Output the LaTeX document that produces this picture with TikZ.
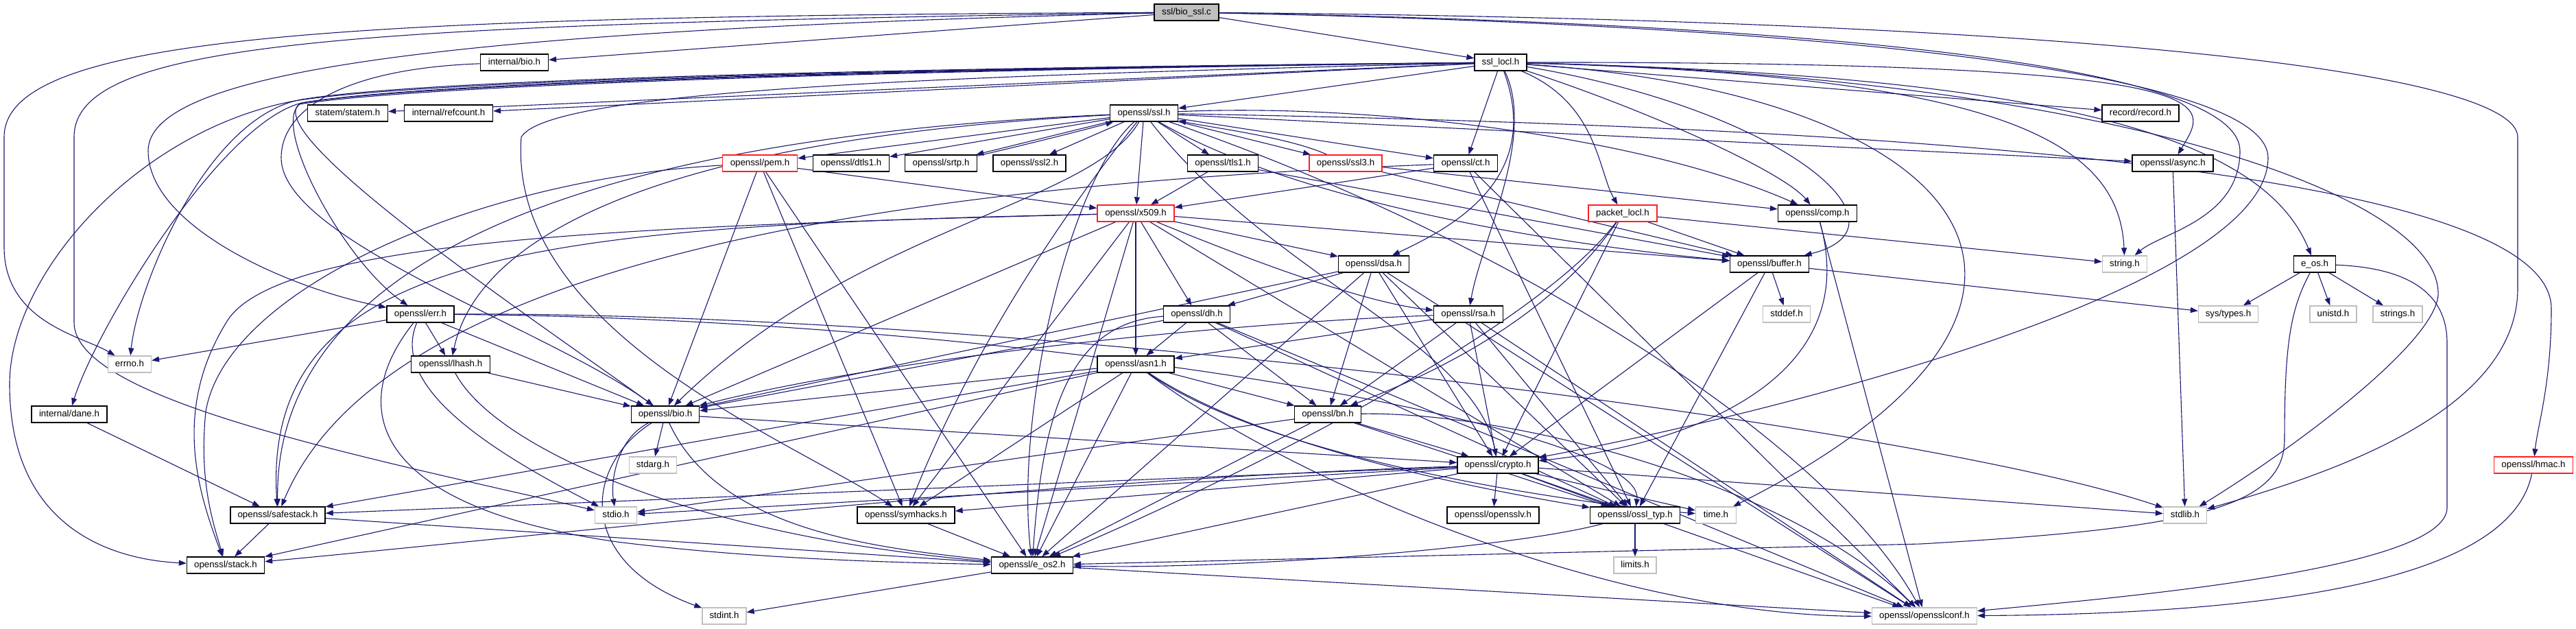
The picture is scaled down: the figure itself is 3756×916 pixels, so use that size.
\documentclass[tikz,border=0pt]{standalone}
\usepackage{fontspec}
\setmainfont{Liberation Sans}
\usetikzlibrary{arrows.meta}
\pgfdeclarelayer{bg}
\pgfsetlayers{bg,main}
\definecolor{edgec}{HTML}{191970}
\definecolor{lgray}{HTML}{BFBFBF}
\definecolor{tred}{HTML}{FF2020}
\tikzset{
 n/.style={draw=black, line width=1.3pt, fill=white, minimum height=24pt, inner xsep=2pt, inner ysep=0pt,
   font=\fontsize{13.3pt}{16pt}\selectfont, text height=10pt, text depth=3pt},
 sys/.style={n, draw=lgray},
 trunc/.style={n, draw=tred},
 e/.style={draw=edgec, line width=1.1pt, -{Triangle[length=11pt,width=8pt]}},
}
\begin{document}
\begin{tikzpicture}[x=1pt,y=-1pt]
\useasboundingbox (0,0) rectangle (3756,916);
\node[n, fill=lgray, minimum width=94pt] (B) at (1730,18) {ssl/bio\_ssl.c};
\node[n, minimum width=99pt] (ibio) at (750,91) {internal/bio.h};
\node[n, minimum width=76pt] (L) at (2188,91) {ssl\_locl.h};
\node[n, minimum width=117pt] (statem) at (507,165) {statem/statem.h};
\node[n, minimum width=129pt] (refc) at (654,165) {internal/refcount.h};
\node[n, minimum width=99pt] (S) at (1668,165) {openssl/ssl.h};
\node[n, minimum width=112pt] (rec) at (3121,165) {record/record.h};
\node[trunc, minimum width=109pt] (pem) at (1108,238) {openssl/pem.h};
\node[n, minimum width=111pt] (dtls) at (1241,238) {openssl/dtls1.h};
\node[n, minimum width=105pt] (srtp) at (1372,238) {openssl/srtp.h};
\node[n, minimum width=106pt] (ssltwo) at (1501,238) {openssl/ssl2.h};
\node[n, minimum width=103pt] (tls) at (1783,238) {openssl/tls1.h};
\node[trunc, minimum width=106pt] (sslthree) at (1962,238) {openssl/ssl3.h};
\node[n, minimum width=93pt] (ct) at (2137,238) {openssl/ct.h};
\node[n, minimum width=118pt] (async) at (3168,238) {openssl/async.h};
\node[trunc, minimum width=112pt] (X) at (1656,311) {openssl/x509.h};
\node[trunc, minimum width=100pt] (pkt) at (2366,311) {packet\_locl.h};
\node[n, minimum width=115pt] (comp) at (2650,311) {openssl/comp.h};
\node[n, minimum width=103pt] (dsa) at (2003,385) {openssl/dsa.h};
\node[n, minimum width=115pt] (buf) at (2580,385) {openssl/buffer.h};
\node[sys, minimum width=65pt] (str) at (3098,385) {string.h};
\node[n, minimum width=61pt] (eos) at (3375,385) {e\_os.h};
\node[n, minimum width=98pt] (err) at (613,458) {openssl/err.h};
\node[n, minimum width=97pt] (dh) at (1745,458) {openssl/dh.h};
\node[n, minimum width=101pt] (rsa) at (2141,458) {openssl/rsa.h};
\node[sys, minimum width=69pt] (stddef) at (2605,458) {stddef.h};
\node[sys, minimum width=87pt] (systypes) at (3249,458) {sys/types.h};
\node[sys, minimum width=68pt] (unistd) at (3402,458) {unistd.h};
\node[sys, minimum width=72pt] (strings) at (3496,458) {strings.h};
\node[sys, minimum width=63pt] (errno) at (189,531) {errno.h};
\node[n, minimum width=115pt] (lhash) at (657,531) {openssl/lhash.h};
\node[n, minimum width=112pt] (asn) at (1656,531) {openssl/asn1.h};
\node[n, minimum width=110pt] (dane) at (101,604) {internal/dane.h};
\node[n, minimum width=99pt] (bio) at (970,604) {openssl/bio.h};
\node[n, minimum width=97pt] (bn) at (1936,604) {openssl/bn.h};
\node[sys, minimum width=69pt] (stdarg) at (952,678) {stdarg.h};
\node[n, minimum width=118pt] (crypto) at (2184,678) {openssl/crypto.h};
\node[trunc, minimum width=115pt] (hmac) at (3694,678) {openssl/hmac.h};
\node[n, minimum width=138pt] (safe) at (405,751) {openssl/safestack.h};
\node[sys, minimum width=61pt] (stdio) at (898,751) {stdio.h};
\node[n, minimum width=142pt] (sym) at (1321,751) {openssl/symhacks.h};
\node[n, minimum width=134pt] (opv) at (2177,751) {openssl/opensslv.h};
\node[n, minimum width=131pt] (ossl) at (2384,751) {openssl/ossl\_typ.h};
\node[sys, minimum width=59pt] (time) at (2502,751) {time.h};
\node[sys, minimum width=63pt] (stdlib) at (3186,751) {stdlib.h};
\node[n, minimum width=113pt] (stack) at (329,824) {openssl/stack.h};
\node[n, minimum width=119pt] (eostwo) at (1505,824) {openssl/e\_os2.h};
\node[sys, minimum width=62pt] (limits) at (2384,824) {limits.h};
\node[sys, minimum width=64pt] (stdint) at (1056,898) {stdint.h};
\node[sys, minimum width=153pt] (conf) at (2806,898) {openssl/opensslconf.h};

\begin{pgfonlayer}{bg}
% ssl/bio_ssl.c
\draw[e] (B) -- (L);
\draw[e] (B) -- (ibio);
\draw[e] (B) .. controls (500,24) and (6,50) .. (6,200) -- (6,360) .. controls (6,470) and (120,490) .. (errno);
\draw[e] (B) .. controls (500,36) and (108,60) .. (108,200) -- (108,470) .. controls (108,580) and (500,660) .. (stdio);
\draw[e] (B) .. controls (600,45) and (216,110) .. (216,220) .. controls (216,330) and (420,420) .. (err);
\draw[e] (B) .. controls (2700,35) and (3266,100) .. (3266,220) .. controls (3266,320) and (3150,340) .. (str);
\draw[e] (B) .. controls (3100,30) and (3671,110) .. (3671,200) -- (3671,420) .. controls (3671,600) and (3400,690) .. (stdlib);
\draw[e] (B) .. controls (2800,40) and (3307,120) .. (3307,230) .. controls (3307,420) and (2600,600) .. (crypto);
% internal/bio.h
\draw[e] (ibio) .. controls (500,100) and (410,160) .. (410,230) .. controls (410,350) and (800,480) .. (bio);
% ssl_locl.h
\draw[e] (L) -- (S);
\draw[e] (L) -- (statem);
\draw[e] (L) -- (refc);
\draw[e] (L) .. controls (1200,100) and (600,118) .. (440,145) .. controls (300,170) and (200,420) .. (errno);
\draw[e] (L) .. controls (1200,101) and (600,120) .. (430,147) .. controls (200,190) and (14,400) .. (14,560) .. controls (14,760) and (150,815) .. (stack);
\draw[e] (L) .. controls (1200,102) and (600,122) .. (440,150) .. controls (320,180) and (140,480) .. (dane);
\draw[e] (L) .. controls (1200,103) and (600,124) .. (440,150) .. controls (390,175) and (500,380) .. (err);
\draw[e] (L) .. controls (1200,104) and (600,126) .. (436,152) .. controls (380,200) and (800,480) .. (bio);
\draw[e] (L) .. controls (1400,110) and (800,130) .. (760,200) .. controls (740,480) and (1150,640) .. (sym);
\draw[e] (L) -- (rec);
\draw[e] (L) .. controls (3280,90) and (3220,150) .. (async);
\draw[e] (L) .. controls (2900,110) and (3090,200) .. (str);
\draw[e] (L) .. controls (3000,110) and (3300,200) .. (eos);
\draw[e] (L) .. controls (3050,110) and (3560,280) .. (3555,430) .. controls (3550,500) and (3350,650) .. (stdlib);
\draw[e] (L) .. controls (2900,140) and (3100,450) .. (time);
\draw[e] (L) .. controls (2600,160) and (2800,330) .. (buf);
\draw[e] (L) .. controls (2400,160) and (2600,250) .. (comp);
\draw[e] (L) .. controls (2330,150) and (2330,250) .. (pkt);
\draw[e] (L) -- (ct);
\draw[e] (L) .. controls (2250,260) and (2120,330) .. (dsa);
\draw[e] (L) .. controls (2240,200) and (2160,350) .. (rsa);
% openssl/ssl.h
\draw[e] (S) -- (pem);
\draw[e] (S) -- (dtls);
\draw[e] (S) -- (srtp);
\draw[e] (srtp) .. controls (1450,222) and (1580,190) .. (S);
\draw[e] (S) -- (ssltwo);
\draw[e] (S) -- (tls);
\draw[e] (S) -- (X);
\draw[e] (S) -- (sslthree);
\draw[e] (sslthree) .. controls (1880,200) and (1760,185) .. (S);
\draw[e] (S) -- (ct);
\draw[e] (S) -- (async);
\draw[e] (S) .. controls (2000,150) and (2400,200) .. (comp);
\draw[e] (S) .. controls (1900,300) and (2300,360) .. (buf);
\draw[e] (S) .. controls (2800,185) and (3720,250) .. (3720,450) .. controls (3720,560) and (3700,620) .. (hmac);
\draw[e] (S) .. controls (1850,400) and (2150,500) .. (crypto);
\draw[e] (S) .. controls (1560,260) and (1480,600) .. (eostwo);
\draw[e] (S) .. controls (2150,330) and (2650,620) .. (conf);
\draw[e] (S) .. controls (1590,300) and (1250,330) .. (bio);
\draw[e] (S) .. controls (1000,200) and (700,330) .. (lhash);
\draw[e] (S) .. controls (850,200) and (400,380) .. (safe);
\draw[e] (S) .. controls (1560,300) and (1420,500) .. (sym);
% ssl3, tls1, ct
\draw[e] (sslthree) -- (comp);
\draw[e] (sslthree) -- (buf);
\draw[e] (tls) -- (X);
\draw[e] (tls) -- (buf);
\draw[e] (ct) -- (X);
\draw[e] (ct) .. controls (1300,270) and (560,380) .. (safe);
\draw[e] (ct) -- (ossl);
\draw[e] (ct) -- (conf);
% pem
\draw[e] (pem) -- (X);
\draw[e] (pem) -- (bio);
\draw[e] (pem) -- (eostwo);
\draw[e] (pem) -- (sym);
\draw[e] (pem) .. controls (700,260) and (330,420) .. (300,600) .. controls (290,700) and (310,760) .. (stack);
% x509
\draw[e] (X) -- (asn);
\draw[e] (X) -- (dh);
\draw[e] (X) -- (dsa);
\draw[e] (X) .. controls (1800,370) and (1980,440) .. (rsa);
\draw[e] (X) -- (buf);
\draw[e] (X) -- (ossl);
\draw[e] (X) -- (sym);
\draw[e] (X) -- (eostwo);
\draw[e] (X) -- (bio);
\draw[e] (X) .. controls (800,330) and (380,360) .. (safe);
\draw[e] (X) .. controls (900,330) and (400,350) .. (330,470) .. controls (250,600) and (290,720) .. (stack);
% dsa
\draw[e] (dsa) -- (dh);
\draw[e] (dsa) -- (bn);
\draw[e] (dsa) -- (crypto);
\draw[e] (dsa) -- (ossl);
\draw[e] (dsa) -- (bio);
\draw[e] (dsa) -- (eostwo);
\draw[e] (dsa) -- (conf);
% dh
\draw[e] (dh) -- (asn);
\draw[e] (dh) -- (bn);
\draw[e] (dh) -- (ossl);
\draw[e] (dh) -- (bio);
\draw[e] (dh) .. controls (1560,470) and (1520,600) .. (eostwo);
\draw[e] (dh) -- (conf);
% rsa
\draw[e] (rsa) -- (asn);
\draw[e] (rsa) .. controls (1800,470) and (1300,520) .. (bio);
\draw[e] (rsa) -- (crypto);
\draw[e] (rsa) -- (ossl);
\draw[e] (rsa) -- (bn);
\draw[e] (rsa) -- (conf);
% asn1
\draw[e] (asn) -- (bio);
\draw[e] (asn) -- (bn);
\draw[e] (asn) .. controls (1850,660) and (2200,720) .. (ossl);
\draw[e] (asn) .. controls (1850,670) and (2300,735) .. (time);
\draw[e] (asn) -- (sym);
\draw[e] (asn) -- (eostwo);
\draw[e] (asn) .. controls (1880,700) and (2350,900) .. (conf);
\draw[e] (asn) -- (safe);
\draw[e] (asn) -- (stack);
% bn
\draw[e] (bn) -- (crypto);
\draw[e] (bn) -- (ossl);
\draw[e] (bn) -- (eostwo);
\draw[e] (bn) -- (stdio);
\draw[e] (bn) .. controls (2200,600) and (2600,700) .. (conf);
% crypto
\draw[e] (crypto) -- (opv);
\draw[e] (crypto) -- (ossl);
\draw[e] (crypto) -- (time);
\draw[e] (crypto) -- (stdlib);
\draw[e] (crypto) -- (conf);
\draw[e] (crypto) -- (eostwo);
\draw[e] (crypto) -- (sym);
\draw[e] (crypto) -- (stdio);
\draw[e] (crypto) -- (safe);
\draw[e] (crypto) .. controls (1500,700) and (800,780) .. (stack);
% ossl_typ, e_os2, symhacks, safestack
\draw[e] (ossl) -- (limits);
\draw[e] (ossl) .. controls (2200,800) and (1800,830) .. (eostwo);
\draw[e] (eostwo) -- (conf);
\draw[e] (eostwo) -- (stdint);
\draw[e] (sym) -- (eostwo);
\draw[e] (safe) -- (stack);
\draw[e] (safe) -- (eostwo);
% bio
\draw[e] (bio) .. controls (1050,780) and (1300,800) .. (eostwo);
\draw[e] (bio) .. controls (900,640) and (890,700) .. (stdio);
\draw[e] (bio) -- (stdarg);
\draw[e] (bio) -- (crypto);
\draw[e] (bio) .. controls (850,680) and (840,820) .. (stdint);
% lhash
\draw[e] (lhash) -- (bio);
\draw[e] (lhash) .. controls (720,650) and (1000,780) .. (eostwo);
% err
\draw[e] (err) -- (errno);
\draw[e] (err) -- (lhash);
\draw[e] (err) -- (bio);
\draw[e] (err) .. controls (570,560) and (700,650) .. (stdio);
\draw[e] (err) .. controls (500,600) and (550,740) .. (900,790) .. controls (1100,815) and (1300,820) .. (eostwo);
\draw[e] (err) .. controls (1500,455) and (2800,620) .. (stdlib);
\draw[e] (err) .. controls (1500,465) and (2400,620) .. (ossl);
% dane
\draw[e] (dane) -- (safe);
% packet_locl
\draw[e] (pkt) -- (str);
\draw[e] (pkt) .. controls (2250,480) and (2050,560) .. (bn);
\draw[e] (pkt) .. controls (2240,480) and (1800,700) .. (eostwo);
\draw[e] (pkt) -- (buf);
\draw[e] (pkt) -- (crypto);
% comp, buffer, async
\draw[e] (comp) -- (conf);
\draw[e] (comp) .. controls (2720,560) and (2450,650) .. (crypto);
\draw[e] (buf) -- (crypto);
\draw[e] (buf) -- (ossl);
\draw[e] (buf) -- (stddef);
\draw[e] (buf) -- (systypes);
\draw[e] (async) -- (stdlib);
% e_os.h
\draw[e] (eos) -- (systypes);
\draw[e] (eos) -- (unistd);
\draw[e] (eos) -- (strings);
\draw[e] (eos) .. controls (3340,450) and (3331,500) .. (3331,640) .. controls (3331,740) and (3200,770) .. (2800,793) -- (eostwo);
\draw[e] (eos) .. controls (3500,390) and (3568,420) .. (3568,500) -- (3568,740) .. controls (3568,830) and (3100,870) .. (conf);
% hmac
\draw[e] (hmac) .. controls (3660,850) and (3300,895) .. (conf);
\end{pgfonlayer}
\end{tikzpicture}
\end{document}
